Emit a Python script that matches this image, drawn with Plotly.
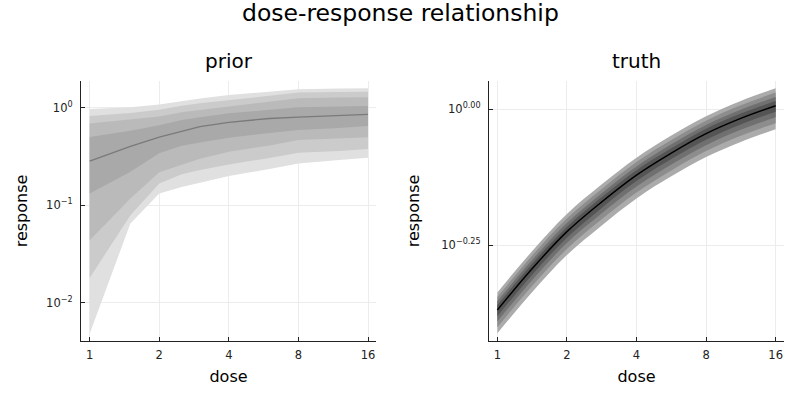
import plotly.graph_objects as go

# ---------------- data ----------------
prior_dose = [1, 1.5, 2, 2.5, 3, 4, 6, 8, 12, 16]
prior_median = [0.283, 0.40, 0.50, 0.575, 0.64, 0.708, 0.775, 0.80, 0.83, 0.855]
prior_upper = {
    "u1": [0.50, 0.58, 0.66, 0.75, 0.80, 0.875, 0.95, 1.01, 1.03, 1.04],
    "u2": [0.69, 0.76, 0.81, 0.90, 0.95, 1.02, 1.15, 1.25, 1.27, 1.28],
    "u3": [0.82, 0.88, 0.95, 1.05, 1.11, 1.20, 1.33, 1.43, 1.45, 1.46],
    "u4": [0.97, 1.01, 1.08, 1.17, 1.24, 1.35, 1.47, 1.55, 1.57, 1.58],
}
prior_lower = {
    "l1": [0.132, 0.22, 0.34, 0.407, 0.44, 0.492, 0.55, 0.59, 0.62, 0.649],
    "l2": [0.0437, 0.117, 0.217, 0.262, 0.30, 0.353, 0.41, 0.466, 0.48, 0.497],
    "l3": [0.0179, 0.079, 0.167, 0.207, 0.23, 0.262, 0.305, 0.345, 0.36, 0.377],
    "l4": [0.0048, 0.065, 0.132, 0.154, 0.17, 0.199, 0.235, 0.268, 0.29, 0.306],
}

truth_dose = [1, 1.41, 2, 2.83, 4, 5.66, 8, 11.3, 16]
truth_median = [0.427, 0.508, 0.595, 0.675, 0.756, 0.830, 0.901, 0.961, 1.014]
truth_upper = {
    "u1": [0.436, 0.519, 0.607, 0.689, 0.772, 0.847, 0.920, 0.981, 1.035],
    "u2": [0.443, 0.527, 0.617, 0.700, 0.784, 0.861, 0.935, 0.997, 1.052],
    "u3": [0.451, 0.537, 0.629, 0.713, 0.799, 0.877, 0.952, 1.016, 1.072],
    "u4": [0.460, 0.547, 0.641, 0.727, 0.814, 0.894, 0.970, 1.035, 1.092],
}
truth_lower = {
    "l1": [0.416, 0.495, 0.580, 0.658, 0.737, 0.809, 0.878, 0.937, 0.989],
    "l2": [0.407, 0.484, 0.567, 0.643, 0.720, 0.791, 0.858, 0.916, 0.966],
    "l3": [0.397, 0.472, 0.553, 0.627, 0.702, 0.771, 0.837, 0.893, 0.942],
    "l4": [0.387, 0.460, 0.539, 0.611, 0.685, 0.752, 0.816, 0.870, 0.918],
}

x_ticks = [1, 2, 4, 8, 16]
x_ticklabels = ["1", "2", "4", "8", "16"]
prior_yticks = [1, 0.1, 0.01]
prior_yticklabels = ["10<sup>0</sup>", "10<sup>−1</sup>", "10<sup>−2</sup>"]
truth_yticks = [1, 10 ** -0.25]
truth_yticklabels = ["10<sup>0.00</sup>", "10<sup>−0.25</sup>"]

prior_colors = ["#e0e0e0", "#cbcbcb", "#bababa", "#a9a9a9"]
truth_colors = ["#ababab", "#8d8d8d", "#707070", "#555555"]

FONT = "DejaVu Sans"

fig = go.Figure()


def add_bands(dose, upper, lower, colors, xa, ya, shape):
    for i, k in enumerate(["4", "3", "2", "1"]):
        fig.add_trace(go.Scatter(
            x=dose, y=lower["l" + k], mode="lines",
            line=dict(width=0, shape=shape, color=colors[i]),
            hoverinfo="skip", showlegend=False, xaxis=xa, yaxis=ya,
        ))
        fig.add_trace(go.Scatter(
            x=dose, y=upper["u" + k], mode="lines",
            fill="tonexty", fillcolor=colors[i],
            line=dict(width=0, shape=shape, color=colors[i]),
            hoverinfo="skip", showlegend=False, xaxis=xa, yaxis=ya,
        ))


add_bands(prior_dose, prior_upper, prior_lower, prior_colors, "x", "y", "linear")
fig.add_trace(go.Scatter(x=prior_dose, y=prior_median, mode="lines",
                         line=dict(color="#7a7a7a", width=1.3),
                         showlegend=False, xaxis="x", yaxis="y"))
add_bands(truth_dose, truth_upper, truth_lower, truth_colors, "x2", "y2", "spline")
fig.add_trace(go.Scatter(x=truth_dose, y=truth_median, mode="lines",
                         line=dict(color="black", width=1.5, shape="spline"),
                         showlegend=False, xaxis="x2", yaxis="y2"))

axis_common = dict(
    type="log", showline=True, linecolor="#222", linewidth=1.2,
    ticks="inside", ticklen=4, tickcolor="#222",
    showgrid=True, gridcolor="#ececec", gridwidth=0.6,
    zeroline=False, mirror=False,
    tickfont=dict(family=FONT, size=11.5, color="#222"),
)
xcommon = dict(axis_common, ticklabelstandoff=3)
ycommon = dict(axis_common, ticklabelstandoff=5)

fig.update_layout(
    width=800, height=400,
    margin=dict(l=0, r=0, t=0, b=0),
    paper_bgcolor="white", plot_bgcolor="white",
    font=dict(family=FONT, color="black"),
    showlegend=False,
    xaxis=dict(xcommon, domain=[81 / 800, 376 / 800],
               range=[-0.125 * 0.30103, 4.115 * 0.30103],
               tickvals=x_ticks, ticktext=x_ticklabels, anchor="y",
               title=dict(text="dose", font=dict(size=16, family=FONT), standoff=9)),
    yaxis=dict(ycommon, domain=[59 / 400, 319 / 400],
               range=[-2.394, 0.274],
               tickvals=prior_yticks, ticktext=prior_yticklabels, anchor="x",
               title=dict(text="response", font=dict(size=16, family=FONT), standoff=14)),
    xaxis2=dict(xcommon, domain=[489 / 800, 784 / 800],
                range=[-0.12 * 0.30103, 4.12 * 0.30103],
                tickvals=x_ticks, ticktext=x_ticklabels, anchor="y2",
                title=dict(text="dose", font=dict(size=16, family=FONT), standoff=9)),
    yaxis2=dict(ycommon, domain=[59 / 400, 319 / 400],
                range=[-0.4265, 0.0515],
                tickvals=truth_yticks, ticktext=truth_yticklabels, anchor="x2",
                title=dict(text="response", font=dict(size=16, family=FONT), standoff=17)),
    annotations=[
        dict(text="dose-response relationship", x=0.5, y=1 - 13 / 400,
             xref="paper", yref="paper", showarrow=False,
             font=dict(size=23.5, family=FONT), xanchor="center", yanchor="middle"),
        dict(text="prior", x=228.5 / 800, y=1 - 61 / 400,
             xref="paper", yref="paper", showarrow=False,
             font=dict(size=20, family=FONT), xanchor="center", yanchor="middle"),
        dict(text="truth", x=636.5 / 800, y=1 - 61 / 400,
             xref="paper", yref="paper", showarrow=False,
             font=dict(size=20, family=FONT), xanchor="center", yanchor="middle"),
    ],
)

fig.write_html("out.html", config={"displayModeBar": False},
               post_script="document.body.style.margin='0';document.body.style.padding='0';")
